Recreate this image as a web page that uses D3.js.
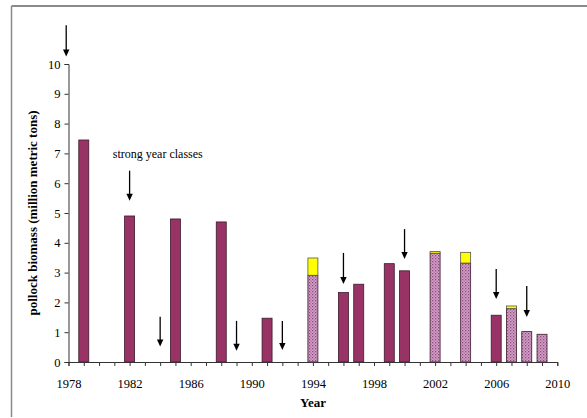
<!DOCTYPE html>
<html>
<head>
<meta charset="utf-8">
<script src="https://cdn.jsdelivr.net/npm/d3@7"></script>
<style>
  body { margin: 0; background: #fff; overflow: hidden; }
  svg { display: block; }
  text { font-family: "Liberation Serif", "Times New Roman", serif; fill: #000; }
</style>
</head>
<body>
<div id="main"></div>
<script>
// DATA
var years   = [1979, 1982, 1985, 1988, 1991, 1994, 1996, 1997, 1999, 2000, 2002, 2004, 2006, 2007, 2008, 2009]
var biomass = [7.45, 4.9, 4.8, 4.7, 1.47, 2.91, 2.33, 2.61, 3.3, 3.06, 3.65, 3.32, 1.57, 1.79, 1.02, 0.93]
var hatched = [0, 0, 0, 0, 0, 1, 0, 0, 0, 0, 1, 1, 0, 1, 1, 1]   // survey type (dotted bars)
var extra   = [0, 0, 0, 0, 0, 0.58, 0, 0, 0, 0, 0.06, 0.36, 0, 0.09, 0, 0] // yellow part on top

// strong year classes, arrows (tail -> tip in million tons)
var arrowYears = [1977.85, 1982, 1984, 1989, 1992, 1996, 2000, 2006, 2008]
var arrowTail  = [11.3, 6.42, 1.52, 1.38, 1.38, 3.66, 4.46, 3.12, 2.55]
var arrowTip   = [10.25, 5.41, 0.52, 0.38, 0.4, 2.62, 3.46, 2.11, 1.51]

var xTicksLabels = [1978, 1982, 1986, 1990, 1994, 1998, 2002, 2006, 2010]
var yTicks = [0, 1, 2, 3, 4, 5, 6, 7, 8, 9, 10]

var W = 587, H = 418
var svg = d3.select('#main').append('svg')
  .attr('width', W).attr('height', H)

// frame of the original figure
svg.append('line').attr('x1', 11.5).attr('x2', W).attr('y1', 6).attr('y2', 6)
  .attr('stroke', '#8a8a8a').attr('stroke-width', 2)
svg.append('line').attr('x1', 11.5).attr('x2', 11.5).attr('y1', 6).attr('y2', 417)
  .attr('stroke', '#8a8a8a').attr('stroke-width', 1.5)

var x = d3.scaleLinear().domain([1978, 2010]).range([68.5, 557.3])
var y = d3.scaleLinear().domain([0, 10]).range([362, 64])

// dotted fill pattern
var defs = svg.append('defs')
var pat = defs.append('pattern').attr('id', 'dots')
  .attr('patternUnits', 'userSpaceOnUse').attr('width', 3).attr('height', 3)
pat.append('rect').attr('width', 3).attr('height', 3).attr('fill', '#d3a0c8')
pat.append('rect').attr('width', 1.3).attr('height', 1.3).attr('fill', '#8e4a7e')
pat.append('rect').attr('x', 1.5).attr('y', 1.5).attr('width', 1.3).attr('height', 1.3).attr('fill', '#a86b99')

var rows = years.map((yr, i) => ({year: yr, v: biomass[i], h: hatched[i], e: extra[i]}))
var bw = 10

// bars
svg.selectAll('rect.bar').data(rows).join('rect')
  .attr('class', 'bar')
  .attr('x', d => x(d.year) - bw / 2)
  .attr('y', d => y(d.v))
  .attr('width', bw)
  .attr('height', d => y(0) - y(d.v))
  .attr('fill', d => d.h ? 'url(#dots)' : '#993366')
  .attr('stroke', '#3b1a2c').attr('stroke-width', 0.8)

svg.selectAll('rect.extra').data(rows.filter(d => d.e > 0)).join('rect')
  .attr('class', 'extra')
  .attr('x', d => x(d.year) - bw / 2)
  .attr('y', d => y(d.v + d.e))
  .attr('width', bw)
  .attr('height', d => y(d.v) - y(d.v + d.e))
  .attr('fill', '#ffff00')
  .attr('stroke', '#555').attr('stroke-width', 0.8)

// axes
var xAxis = d3.axisBottom(x)
  .tickValues(d3.range(1978, 2011))
  .tickSize(4)
  .tickFormat(d => xTicksLabels.includes(d) ? d : '')
var gx = svg.append('g').attr('transform', `translate(0,${y(0)})`).call(xAxis)
gx.select('.domain').attr('stroke', '#333')
gx.selectAll('.tick line').attr('stroke', '#333')
gx.selectAll('.tick text').attr('dy', '1.5em').style('font-size', '12.5px')
  .style('font-family', '"Liberation Serif", serif')

var yAxis = d3.axisLeft(y).tickValues(yTicks).tickSize(4).tickFormat(d3.format('d'))
var gy = svg.append('g').attr('transform', `translate(${x(1978)},0)`).call(yAxis)
gy.select('.domain').attr('stroke', '#333')
gy.selectAll('.tick line').attr('stroke', '#333')
gy.selectAll('.tick text').attr('x', -8).style('font-size', '12.5px')
  .style('font-family', '"Liberation Serif", serif')

// arrows: shaft + filled head
var arrows = svg.selectAll('g.arrow').data(arrowYears).join('g').attr('class', 'arrow')
arrows.append('line')
  .attr('x1', d => x(d)).attr('x2', d => x(d))
  .attr('y1', (d, i) => y(arrowTail[i]))
  .attr('y2', (d, i) => y(arrowTip[i]) - 5)
  .attr('stroke', '#000').attr('stroke-width', 1.3)
arrows.append('path')
  .attr('d', (d, i) => {
    let tx = x(d), ty = y(arrowTip[i])
    return `M${tx - 3.2},${ty - 7} L${tx + 3.2},${ty - 7} L${tx},${ty} Z`
  })
  .attr('fill', '#000')

// labels
svg.append('text')
  .attr('x', x(1980.9)).attr('y', y(6.83))
  .style('font-size', '12px')
  .text('strong year classes')

svg.append('text')
  .attr('x', 313).attr('y', 407)
  .attr('text-anchor', 'middle')
  .style('font-size', '13px').style('font-weight', 'bold')
  .text('Year')

svg.append('text')
  .attr('transform', `translate(37,${y(5) + 0})rotate(-90)`)
  .attr('text-anchor', 'middle')
  .style('font-size', '13px').style('font-weight', 'bold')
  .text('pollock biomass (million metric tons)')
</script>
</body>
</html>
